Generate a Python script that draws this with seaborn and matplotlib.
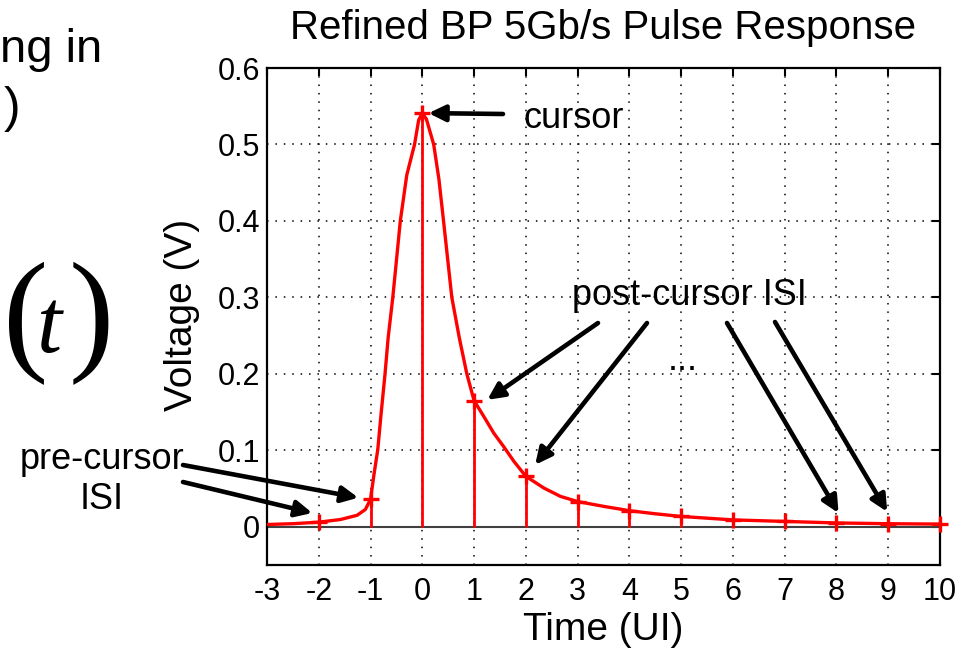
import matplotlib
matplotlib.use("Agg")
import matplotlib.pyplot as plt
import seaborn as sns

# pulse response: time in UI, voltage in V
curve_t = [-3, -2.5, -2, -1.58, -1.26, -1.1, -1, -0.93, -0.86, -0.8, -0.72,
           -0.66, -0.57, -0.5, -0.425, -0.3, -0.15, -0.07, 0, 0.08, 0.22, 0.32,
           0.41, 0.57, 0.715, 0.86, 1, 1.19, 1.38, 1.57, 1.77, 2, 2.35, 2.67,
           3, 3.51, 3.83, 4, 4.5, 5, 6, 7, 8, 9, 10]
curve_v = [0.003, 0.004, 0.006, 0.0095, 0.015, 0.0226, 0.036, 0.07, 0.101,
           0.145, 0.2, 0.247, 0.3, 0.348, 0.4, 0.46, 0.5, 0.532, 0.541, 0.533,
           0.5, 0.455, 0.4, 0.3, 0.247, 0.2, 0.165, 0.144, 0.1225, 0.105,
           0.0855, 0.066, 0.0506, 0.0397, 0.033, 0.0266, 0.023, 0.021, 0.017,
           0.0135, 0.009, 0.007, 0.005, 0.004, 0.0035]

# sampled cursor / ISI values at each UI
sample_t = [-2, -1, 0, 1, 2, 3, 4, 5, 6, 7, 8, 9, 10]
sample_v = [0.006, 0.036, 0.541, 0.165, 0.066, 0.033, 0.021, 0.0135, 0.009,
            0.007, 0.005, 0.004, 0.0035]

x_ticks = list(range(-3, 11))
y_ticks = [0, 0.1, 0.2, 0.3, 0.4, 0.5, 0.6]

W, H = 971, 650


def px(x, y):
    # image pixel (top-left origin) -> figure fraction
    return (x / W, 1 - y / H)


sns.set_style("white")
plt.rcParams["font.family"] = ["Liberation Sans", "DejaVu Sans"]
plt.rcParams["text.color"] = "black"
plt.rcParams["axes.labelcolor"] = "black"

fig = plt.figure(figsize=(W / 100, H / 100), dpi=100)
ax = fig.add_axes([267 / W, 85 / H, 673 / W, 497 / H])

ax.set_axisbelow(True)
ax.grid(True, color="k", linestyle=(0, (1, 4.5)), linewidth=1.1)
ax.axhline(0, color="#404040", lw=1.5, zorder=1)

sns.lineplot(x=curve_t, y=curve_v, ax=ax, color="red", lw=2.4,
             sort=False, estimator=None, zorder=3)
ax.vlines(sample_t, 0, sample_v, color="red", lw=2, zorder=3)
sns.scatterplot(x=sample_t, y=sample_v, ax=ax, marker="+", s=130,
                color="red", linewidth=2.4, zorder=4, clip_on=False)

ax.set_xlim(-3, 10)
ax.set_ylim(-0.05, 0.6)
ax.set_xticks(x_ticks)
ax.set_yticks(y_ticks)
ax.set_xticklabels([str(t) for t in x_ticks])
ax.set_yticklabels(["0"] + [f"{v:.1f}" for v in y_ticks[1:]])
ax.tick_params(direction="in", length=6, width=1.5, top=True, right=True,
               labelsize=22, colors="k")
ax.tick_params(axis="x", pad=9)
ax.tick_params(axis="y", pad=5)
for s in ax.spines.values():
    s.set_color("k")
    s.set_linewidth(1.6)

ax.set_title("Refined BP 5Gb/s Pulse Response", fontsize=29, pad=21)
ax.set_xlabel("Time (UI)", fontsize=28)
ax.set_ylabel("Voltage (V)", fontsize=28)
ax.xaxis.set_label_coords(0.5, -0.094)
ax.yaxis.set_label_coords(-0.1, 0.503)

# annotation labels
fig.text(*px(523, 128), "cursor", fontsize=26, va="baseline", ha="left")
fig.text(*px(572, 305), "post-cursor ISI", fontsize=26, va="baseline", ha="left")
fig.text(*px(668, 370), "...", fontsize=26, va="baseline", ha="left")
fig.text(*px(102, 509), "pre-cursor\nISI", fontsize=26, va="baseline",
         ha="center", multialignment="center", linespacing=1.2)

# arrows: tail in image pixels, tip in data coordinates
arrow_tails = [(503, 114), (598, 323), (647, 323), (727, 323), (775, 322),
               (183, 465), (183, 482)]
arrow_tips = [(0.12, 0.541), (1.256, 0.166), (2.18, 0.081), (8.04, 0.018),
              (8.98, 0.0196), (-1.236, 0.038), (-2.125, 0.018)]
for tail, tip in zip(arrow_tails, arrow_tips):
    ax.annotate("", xy=tip, xycoords="data", xytext=px(*tail),
                textcoords="figure fraction", annotation_clip=False,
                arrowprops=dict(arrowstyle="-|>,head_length=0.45,head_width=0.22",
                                mutation_scale=22, lw=3.3, color="k",
                                shrinkA=0, shrinkB=0))

# slide text around the chart
fig.text(*px(0, 62), "ng in", fontsize=34, va="baseline", ha="left")
fig.text(*px(20, 122), ")", fontsize=36, va="baseline", ha="right")
fig.text(*px(3, 356), "(", fontsize=98, va="baseline", ha="left",
         family="Liberation Serif")
fig.text(*px(36, 352), "t", fontsize=65, va="baseline", ha="left",
         family="Liberation Serif", style="italic")
fig.text(*px(69, 356), ")", fontsize=98, va="baseline", ha="left",
         family="Liberation Serif")

fig.savefig("out.png", dpi=100, facecolor="white")
